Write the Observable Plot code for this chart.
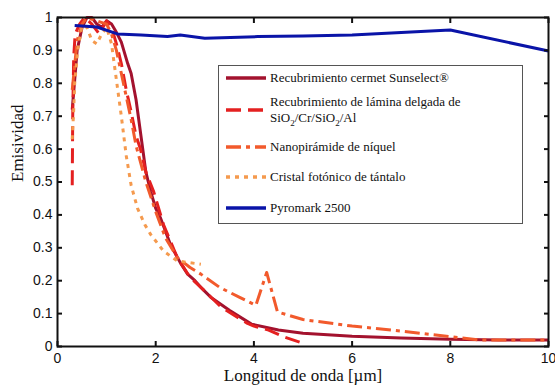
<!DOCTYPE html>
<html>
<head>
<meta charset="utf-8">
<script src="https://cdn.jsdelivr.net/npm/d3@7"></script>
<script src="https://cdn.jsdelivr.net/npm/@observablehq/plot@0.6"></script>
<style>
  body { margin: 0; background: #fff; }
  #wrap { position: relative; width: 555px; height: 390px; }
  #legend { position: absolute; left: 218px; top: 65px; width: 305px; height: 159px; background: #fff;
    border: 1px solid #555; box-sizing: border-box; font-family: "Liberation Serif", "DejaVu Serif", serif; font-size: 13px; color: #111; }
  .row { position: absolute; left: 0; width: 100%; }
  .row svg { position: absolute; left: 7px; }
  .row span { position: absolute; left: 51px; line-height: 16px; white-space: nowrap; }
</style>
</head>
<body>
<div id="wrap"></div>
<script>
// Series names
const seriesNames = [
  "Recubrimiento cermet Sunselect®",
  "Recubrimiento de lámina delgada de SiO2/Cr/SiO2/Al",
  "Nanopirámide de níquel",
  "Cristal fotónico de tántalo",
  "Pyromark 2500"
];
// Sunselect (solid dark red)
const sunX = [0.3,0.4,0.5,0.6,0.7,0.8,0.9,1.0,1.1,1.2,1.3,1.43,1.5,1.6,1.7,1.8,1.9,2.0,2.1,2.3,2.5,2.65,2.8,2.95,3.12,3.5,3.95,4.5,5,6,7,8,9,10];
const sunY = [0.72,0.9,0.97,1.0,1.0,0.98,0.97,0.99,0.98,0.955,0.925,0.86,0.83,0.75,0.64,0.53,0.47,0.42,0.39,0.31,0.255,0.22,0.2,0.175,0.15,0.11,0.068,0.05,0.04,0.031,0.026,0.022,0.02,0.02];
// SiO2/Cr/SiO2/Al (dashed red)
const sioX = [0.3,0.31,0.33,0.36,0.45,0.55,0.7,0.85,1.0,1.1,1.2,1.3,1.4,1.49,1.6,1.69,1.8,1.96,2.16,2.44,2.7,2.92,3.33,3.87,4.0,4.3,4.6,5.0];
const sioY = [0.49,0.7,0.88,0.95,0.98,1.0,0.98,0.95,0.99,0.97,0.92,0.86,0.78,0.72,0.64,0.6,0.53,0.47,0.37,0.27,0.21,0.18,0.12,0.07,0.062,0.05,0.03,0.01];
// Nickel nanopyramid (dash-dot)
const nanoX = [0.3,0.4,0.5,0.6,0.8,1.0,1.1,1.2,1.3,1.4,1.5,1.6,1.8,2.0,2.2,2.44,2.7,2.92,3.3,3.7,4.04,4.26,4.48,5.0,6.0,7.0,8.0,8.6,10];
const nanoY = [0.78,0.93,0.98,1.0,0.99,0.98,0.95,0.9,0.83,0.76,0.69,0.61,0.5,0.41,0.33,0.27,0.24,0.22,0.18,0.15,0.125,0.225,0.105,0.082,0.062,0.047,0.03,0.02,0.02];
// Tantalum photonic crystal (dotted)
const taX = [0.3,0.33,0.35,0.41,0.5,0.6,0.7,0.8,0.9,1.0,1.1,1.2,1.3,1.4,1.5,1.63,1.78,1.9,2.16,2.44,2.92];
const taY = [0.63,0.72,0.8,0.9,0.975,0.97,0.93,0.92,0.95,0.97,0.92,0.81,0.7,0.58,0.49,0.42,0.37,0.34,0.29,0.26,0.25];
// Pyromark 2500 (solid blue)
const pyX = [0.35,0.8,1.22,1.7,2.24,2.5,3.0,4.08,5.0,6.0,8.0,10];
const pyY = [0.976,0.971,0.95,0.947,0.942,0.947,0.937,0.942,0.944,0.947,0.962,0.898];

const xTicks = [0,2,4,6,8,10];
const yTicks = [0,0.1,0.2,0.3,0.4,0.5,0.6,0.7,0.8,0.9,1];

const colors = ["#a3122e","#e42020","#f25a2c","#f59a4e","#0a14a8"];
const dashes = [null,"15,7","15,5,4,5","4,5",null];

const xs = [sunX, sioX, nanoX, taX, pyX];
const ys = [sunY, sioY, nanoY, taY, pyY];
const tables = xs.map((xa, i) => xa.map((x, j) => ({x, y: ys[i][j]})));

const fmt = d => String(+d.toFixed(1));

const lineMarks = tables.map((t, i) => Plot.line(t, {
  x: "x", y: "y", stroke: colors[i], strokeWidth: 3,
  strokeDasharray: dashes[i] || undefined, strokeLinecap: "butt", strokeLinejoin: "round"
}));

const chart = Plot.plot({
  width: 555, height: 390,
  marginLeft: 57, marginRight: 7, marginTop: 17, marginBottom: 44,
  style: {background: "#fff", fontFamily: "'Liberation Sans', Arial, sans-serif", color: "#111"},
  x: {domain: [0, 10]},
  y: {domain: [0, 1]},
  marks: [
    ...lineMarks,
    Plot.frame({stroke: "#111", strokeWidth: 2}),
    Plot.axisX(xTicks, {anchor: "bottom", tickSize: 0, tickPadding: 7, fontSize: 14, tickFormat: fmt, label: null}),
    Plot.axisX(xTicks, {anchor: "bottom", tickSize: -5, strokeWidth: 2, tickFormat: () => "", label: null}),
    Plot.axisX(xTicks, {anchor: "top", tickSize: -5, strokeWidth: 2, tickFormat: () => "", label: null}),
    Plot.axisY(yTicks, {anchor: "left", tickSize: 0, tickPadding: 5, fontSize: 14, tickFormat: fmt, label: null}),
    Plot.axisY(yTicks, {anchor: "left", tickSize: -5, strokeWidth: 2, tickFormat: () => "", label: null}),
    Plot.axisY(yTicks, {anchor: "right", tickSize: -5, strokeWidth: 2, tickFormat: () => "", label: null}),
    Plot.text(["Longitud de onda [µm]"], {frameAnchor: "bottom", dy: 34, fontSize: 17, fontFamily: "'Liberation Serif', serif", fill: "#111"}),
    Plot.text(["Emisividad"], {frameAnchor: "left", dx: -40, rotate: -90, fontSize: 17, fontFamily: "'Liberation Serif', serif", fill: "#111"})
  ]
});

const wrap = document.getElementById("wrap");
wrap.appendChild(chart);

// Legend
const legend = document.createElement("div");
legend.id = "legend";
const rowTops = [12, 44, 81, 111, 142];
const labelsHtml = [
  "Recubrimiento cermet Sunselect®",
  "Recubrimiento de lámina delgada de<br>SiO<sub style='font-size:9px'>2</sub>/Cr/SiO<sub style='font-size:9px'>2</sub>/Al",
  "Nanopirámide de níquel",
  "Cristal fotónico de tántalo",
  "Pyromark 2500"
];
labelsHtml.forEach((h, i) => {
  const row = document.createElement("div");
  row.className = "row";
  row.style.top = (rowTops[i]) + "px";
  const dash = dashes[i] ? `stroke-dasharray="${dashes[i]}"` : "";
  row.innerHTML = `<svg width="42" height="6" style="top:-3px"><line x1="0" y1="3" x2="40" y2="3" stroke="${colors[i]}" stroke-width="3.5" ${dash}/></svg>` +
    `<span style="top:${i === 1 ? -16 : -8}px">${h}</span>`;
  legend.appendChild(row);
});
wrap.appendChild(legend);
</script>
</body>
</html>
